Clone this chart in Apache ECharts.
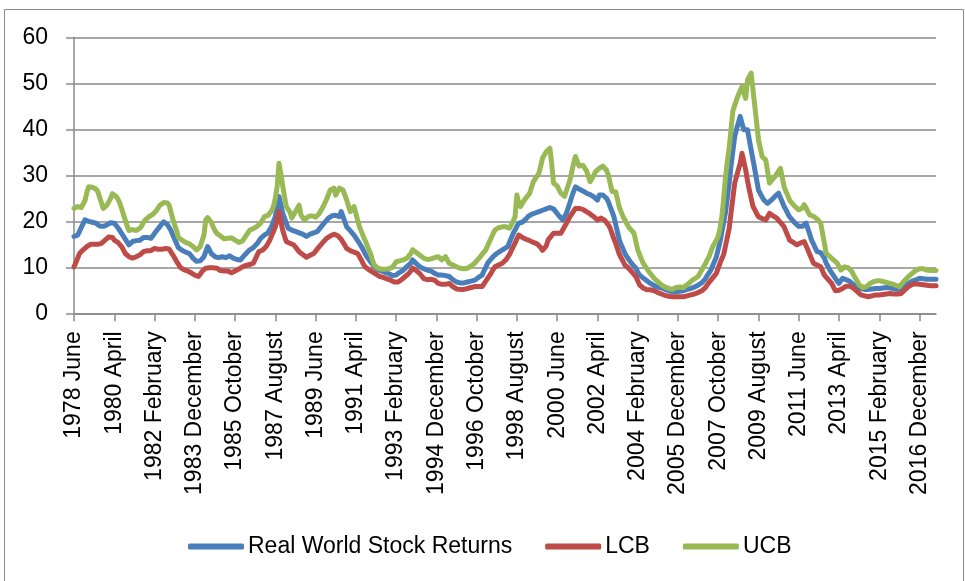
<!DOCTYPE html>
<html>
<head>
<meta charset="utf-8">
<script src="https://cdn.jsdelivr.net/npm/echarts@6/dist/echarts.min.js"></script>
<style>
html,body{margin:0;padding:0;background:#fff;}
#c{width:965px;height:581px;}
</style>
</head>
<body>
<div id="c"></div>
<script>
// Monthly observations, 1978 June .. 2017 September
const monthNames = ["January","February","March","April","May","June","July","August","September","October","November","December"];
const startYear = 1978;
const startMonth = 5; // June (0-based)
const seriesNames = ["Real World Stock Returns", "LCB", "UCB"];

const realWorld = [
16.7,16.8,17.0,17.8,18.7,19.5,20.3,20.2,20.0,19.9,
19.8,19.7,19.6,19.3,19.0,18.8,18.9,19.1,19.2,19.5,
19.7,19.9,19.6,19.2,18.6,18.0,17.4,16.8,16.1,15.5,
14.9,15.2,15.6,15.7,15.8,15.9,15.9,16.2,16.5,16.7,
16.5,16.4,16.3,16.8,17.4,17.9,18.4,18.8,19.4,19.9,
19.6,19.3,19.0,18.0,17.0,16.1,15.2,14.3,14.0,13.7,
13.4,13.3,13.1,13.0,12.5,12.0,11.6,11.3,10.9,11.4,
11.8,12.3,13.4,14.5,13.8,13.0,12.7,12.3,12.0,12.1,
12.2,12.3,12.2,12.1,12.0,12.5,12.3,12.0,11.8,11.7,
11.7,11.6,12.1,12.5,13.0,13.4,13.8,14.0,14.3,14.5,
15.1,15.7,16.3,16.7,17.0,17.3,17.5,17.8,18.9,20.0,
21.0,23.2,25.4,23.6,21.8,20.7,19.6,18.5,18.3,18.1,
18.0,17.8,17.7,17.5,17.4,17.2,16.9,16.7,16.9,17.2,
17.4,17.5,17.7,17.8,18.3,18.8,19.3,19.7,20.2,20.7,
20.9,21.2,21.4,21.3,21.1,21.0,22.1,21.0,19.9,18.8,
18.4,17.9,17.5,17.0,16.4,15.8,15.2,14.5,13.8,13.0,
12.3,11.8,11.2,10.7,10.1,9.8,9.5,9.3,9.2,9.1,
8.9,8.8,8.6,8.4,8.2,8.2,8.3,8.6,8.9,9.1,
9.4,9.8,10.2,10.5,10.9,11.6,11.2,10.8,10.5,10.1,
9.9,9.7,9.6,9.4,9.3,9.2,9.1,8.7,8.3,8.3,
8.3,8.3,8.3,8.2,8.1,8.0,7.6,7.3,6.9,6.8,
6.7,6.6,6.5,6.6,6.7,6.8,6.9,7.0,7.1,7.2,
7.5,7.8,8.0,8.3,9.2,10.0,10.9,11.4,11.8,12.3,
12.7,13.0,13.2,13.5,13.8,14.0,14.3,14.5,15.5,16.4,
17.4,18.1,18.9,19.6,19.7,19.8,19.9,20.5,21.0,21.2,
21.5,21.7,21.8,22.0,22.1,22.2,22.4,22.5,22.7,22.9,
23.0,23.2,22.7,22.2,21.7,21.2,20.8,20.3,21.0,21.7,
22.9,24.1,25.4,26.5,27.5,27.3,27.0,26.8,26.6,26.3,
26.1,26.0,25.8,25.7,25.3,25.0,24.6,25.7,25.7,25.7,
25.7,25.0,24.2,23.1,22.1,21.0,19.3,17.6,15.9,14.9,
14.0,13.0,12.4,11.8,11.2,10.7,10.3,9.8,9.0,8.3,
8.0,7.7,7.4,7.1,6.8,6.5,6.3,6.0,5.8,5.7,
5.6,5.5,5.4,5.2,5.0,4.9,4.7,4.7,4.7,4.7,
4.7,4.8,4.8,4.9,5.0,5.2,5.3,5.4,5.5,5.7,
5.8,6.1,6.3,6.6,6.9,7.5,8.2,8.8,9.4,10.4,
11.3,12.3,13.9,15.5,17.7,19.8,22.0,25.2,28.4,32.0,
35.2,38.4,40.0,41.4,42.8,41.3,39.9,39.9,39.9,37.7,
35.5,33.4,31.2,29.0,26.8,26.0,25.3,24.6,24.2,23.9,
24.3,24.6,25.0,25.4,25.7,26.1,25.1,24.2,23.2,22.5,
21.7,21.0,20.5,20.1,19.6,19.2,18.9,18.5,18.9,19.3,
19.6,18.4,17.2,15.9,15.1,14.2,13.4,13.3,13.2,13.2,
12.0,10.9,10.2,9.4,8.8,8.2,7.6,7.0,6.5,7.1,
7.6,7.5,7.3,7.2,6.9,6.5,6.2,6.0,5.8,5.6,
5.4,5.3,5.2,5.1,5.2,5.3,5.3,5.4,5.4,5.4,
5.4,5.5,5.5,5.6,5.6,5.6,5.5,5.5,5.4,5.3,
5.2,5.1,5.4,5.7,5.9,6.2,6.5,6.7,7.0,7.2,
7.3,7.5,7.6,7.6,7.5,7.5,7.4,7.4,7.4,7.4,
7.4,7.4
];

const lcb = [
10.1,11.0,12.0,13.0,13.4,13.8,14.1,14.5,14.7,15.0,
15.2,15.0,14.9,15.0,15.1,15.2,15.5,15.9,16.3,16.6,
17.0,16.5,15.9,15.7,15.4,15.2,14.5,13.8,13.0,12.6,
12.3,12.0,12.0,12.1,12.3,12.5,12.7,13.1,13.4,13.8,
13.6,13.4,13.6,13.9,14.1,14.0,13.9,13.8,13.9,14.0,
14.1,14.1,14.0,13.3,12.7,12.0,11.3,10.7,10.0,9.8,
9.5,9.3,9.2,9.1,8.8,8.6,8.3,8.1,8.0,8.5,
9.1,9.4,9.8,9.8,9.9,9.9,9.9,9.8,9.8,9.6,
9.3,9.1,9.2,9.4,9.2,9.0,8.8,9.0,9.2,9.4,
9.6,9.9,10.1,10.2,10.4,10.5,10.6,10.8,10.9,11.7,
12.6,13.4,13.5,13.7,13.8,14.5,15.2,15.9,16.9,17.8,
18.8,20.4,22.1,20.1,18.1,16.8,15.6,15.4,15.2,15.1,
14.9,14.4,13.9,13.4,13.1,12.8,12.5,12.2,12.4,12.6,
12.8,13.0,13.5,14.0,14.5,14.9,15.4,15.8,16.3,16.5,
16.8,17.0,17.2,17.0,16.9,16.7,16.1,15.4,14.8,14.1,
13.9,13.6,13.4,13.3,13.1,13.0,12.3,11.6,10.8,10.1,
9.8,9.5,9.3,9.0,8.7,8.5,8.2,8.0,7.9,7.8,
7.6,7.5,7.3,7.2,7.0,6.8,6.5,6.8,7.0,7.3,
7.6,8.0,8.3,8.7,9.2,9.8,9.6,9.3,9.1,8.6,
8.1,7.6,7.5,7.3,7.2,7.4,7.6,7.2,6.9,6.5,
6.4,6.3,6.2,6.3,6.4,6.5,6.1,5.8,5.4,5.3,
5.2,5.2,5.1,5.2,5.3,5.4,5.5,5.6,5.7,5.8,
5.8,5.8,5.8,5.8,6.4,7.0,7.6,8.2,8.8,9.5,
10.1,10.3,10.5,10.7,10.9,11.3,11.6,12.0,12.8,13.7,
14.5,15.3,16.2,17.0,16.8,16.5,16.3,16.1,15.9,15.8,
15.6,15.4,15.2,15.1,14.9,14.3,13.7,13.4,14.6,15.9,
16.4,16.9,17.4,17.4,17.4,17.4,17.4,18.1,18.8,19.5,
20.3,21.0,21.6,22.2,22.8,22.8,22.8,22.8,22.6,22.3,
22.1,21.9,21.6,21.4,21.0,20.7,20.3,20.5,20.7,20.4,
20.2,19.9,19.2,18.5,17.3,16.2,15.2,14.0,12.8,12.0,
11.3,10.5,10.1,9.8,9.4,8.9,8.5,8.0,7.1,6.2,
5.8,5.5,5.1,5.1,5.1,5.1,5.0,4.9,4.7,4.5,
4.4,4.2,4.0,3.9,3.8,3.7,3.6,3.6,3.6,3.6,
3.6,3.6,3.6,3.6,3.7,3.8,3.9,4.0,4.1,4.2,
4.3,4.5,4.7,4.9,5.1,5.6,6.2,6.7,7.2,7.7,
8.2,8.7,9.8,10.9,11.9,12.8,14.7,16.6,18.5,21.8,
25.0,28.3,29.7,31.2,32.6,34.8,33.0,31.2,28.8,26.8,
25.0,23.2,22.5,21.7,21.0,20.8,20.6,20.4,20.3,21.0,
21.7,21.5,21.2,21.0,20.7,20.2,19.8,19.3,18.8,17.8,
16.9,15.9,15.6,15.4,15.1,14.9,15.1,15.3,15.5,15.6,
14.7,13.8,12.8,11.9,10.9,10.7,10.5,10.3,10.1,9.2,
8.3,7.9,7.4,7.0,6.5,5.7,4.9,5.0,5.0,5.1,
5.4,5.7,5.9,6.2,5.9,5.6,5.4,5.1,4.7,4.4,
4.0,3.9,3.8,3.7,3.6,3.7,3.8,3.9,4.0,4.0,
4.0,4.0,4.1,4.2,4.2,4.3,4.3,4.2,4.2,4.2,
4.2,4.3,4.3,4.7,5.1,5.4,5.8,6.0,6.3,6.5,
6.4,6.3,6.3,6.2,6.2,6.1,6.1,6.1,6.0,6.0,
6.0,6.0
];

const ucb = [
22.8,23.0,23.2,23.3,23.0,22.8,24.5,26.2,27.5,27.6,
27.4,27.5,27.0,26.5,25.2,24.0,22.8,23.0,23.5,23.9,
25.0,26.0,25.8,25.4,24.8,24.0,22.8,21.5,20.3,19.0,
18.0,17.8,18.2,18.1,18.0,18.3,18.5,19.0,19.8,20.3,
20.6,21.0,21.2,21.5,21.7,22.3,22.9,23.5,23.9,24.1,
24.3,24.0,23.5,22.0,20.5,19.2,18.1,16.5,16.2,15.9,
15.6,15.4,15.2,15.1,14.9,14.5,14.1,13.8,14.0,14.5,
15.8,17.0,20.3,20.8,21.0,19.8,18.8,18.0,17.4,17.0,
16.8,16.7,16.2,15.9,16.3,16.7,16.4,16.1,15.9,15.6,
15.4,15.2,15.7,16.3,16.9,17.5,18.1,18.3,18.4,18.5,
18.9,19.3,19.6,20.3,21.0,21.1,21.3,21.4,22.3,23.2,
25.0,27.5,32.6,30.4,27.8,25.4,23.2,22.6,22.0,20.7,
21.4,22.1,22.8,23.5,21.4,20.8,20.3,20.6,21.0,21.4,
21.2,21.0,20.9,21.3,21.7,22.4,23.1,23.9,24.8,25.8,
26.8,27.0,27.2,25.7,26.5,27.2,27.0,26.8,25.7,24.6,
23.3,22.1,22.6,23.2,21.7,20.2,18.8,17.8,16.8,15.9,
14.9,13.9,13.0,11.7,10.5,10.1,9.8,9.6,9.6,9.5,
9.6,9.6,9.7,9.9,10.0,10.6,11.2,11.3,11.4,11.5,
11.6,11.8,12.0,12.3,13.0,13.8,13.5,13.2,13.0,12.6,
12.3,12.0,11.8,11.7,11.6,11.8,12.0,12.1,12.2,12.3,
11.9,11.6,12.0,12.3,11.6,10.9,10.7,10.5,10.3,10.1,
10.0,9.8,9.7,9.7,9.8,9.8,10.0,10.3,10.6,10.9,
11.4,11.8,12.3,12.8,13.3,13.8,14.7,15.6,16.4,17.3,
18.1,18.4,18.6,18.8,18.8,18.7,18.8,18.6,18.5,19.3,
20.1,21.0,25.7,24.0,23.2,23.9,24.6,25.1,25.6,26.1,
27.4,28.6,29.2,29.8,30.4,32.0,33.7,34.4,35.1,35.5,
35.9,32.6,28.3,28.0,27.7,27.5,26.1,25.8,25.4,26.6,
27.8,29.0,30.8,32.6,34.1,33.0,32.0,32.1,32.2,32.2,
31.0,29.8,28.6,29.3,30.0,30.8,31.2,31.5,31.7,32.0,
32.2,31.1,30.0,28.2,26.5,26.5,26.4,26.4,23.0,22.0,
21.0,20.3,19.5,18.8,18.3,17.9,17.4,15.6,13.8,12.8,
11.8,10.9,10.3,9.7,9.1,8.6,8.1,7.6,7.2,6.9,
6.5,6.2,5.8,5.7,5.5,5.4,5.3,5.2,5.4,5.6,
5.8,5.7,5.6,5.6,5.9,6.2,6.5,6.9,7.2,7.5,
7.8,8.0,8.7,9.4,10.1,10.8,11.6,12.3,13.4,14.5,
15.2,15.9,16.7,18.5,21.0,25.0,29.7,33.0,36.0,40.0,
44.0,45.2,46.4,47.5,48.4,49.3,48.0,46.7,50.7,51.5,
52.2,48.6,45.0,41.4,37.7,35.9,34.1,33.7,33.3,30.8,
28.3,28.8,29.2,29.7,30.3,30.9,31.5,29.5,27.5,26.5,
25.6,24.6,24.1,23.7,23.2,22.8,22.5,22.1,22.9,23.6,
22.9,22.1,21.4,21.3,21.1,21.0,20.5,20.1,19.6,17.4,
15.2,13.0,12.6,12.3,11.9,11.6,11.2,10.9,10.2,9.4,
9.8,10.1,10.0,9.9,9.8,9.1,8.3,7.6,6.9,6.2,
5.9,5.6,5.4,5.8,6.1,6.5,6.7,6.9,7.2,7.1,
7.0,7.0,6.9,6.8,6.7,6.6,6.5,6.4,6.2,6.1,
5.9,5.8,6.3,6.7,7.2,7.6,8.0,8.3,8.7,9.1,
9.3,9.5,9.7,9.8,9.7,9.5,9.4,9.4,9.3,9.3,
9.3,9.3
];

const yTicks = [0, 10, 20, 30, 40, 50, 60];

// category labels "YYYY Month"
const categories = realWorld.map(function (_, i) {
  const m = startMonth + i;
  return (startYear + Math.floor(m / 12)) + " " + monthNames[m % 12];
});

const chart = echarts.init(document.getElementById('c'), null, {renderer: 'canvas'});
const FONT = '"Liberation Sans", Arial, sans-serif';
const colors = ['#4A7EBB', '#BE4B48', '#98B954'];

chart.setOption({
  animation: false,
  backgroundColor: '#ffffff',
  color: colors,
  textStyle: {fontFamily: FONT},
  graphic: [{
    type: 'rect',
    shape: {x: 4.5, y: 9.5, width: 959, height: 580},
    style: {fill: 'none', stroke: '#8a8a8a', lineWidth: 1},
    silent: true
  }],
  grid: {left: 74, right: 29, top: 37.3, bottom: 267.7, containLabel: false},
  legend: {
    left: 183,
    top: 530,
    itemWidth: 56,
    itemHeight: 6,
    itemGap: 33,
    icon: 'roundRect',
    textStyle: {fontFamily: FONT, fontSize: 23, color: '#000', padding: [0, 0, 0, -1]},
    data: seriesNames
  },
  xAxis: {
    type: 'category',
    data: categories,
    boundaryGap: false,
    axisLine: {lineStyle: {color: '#8a8a8a', width: 1.5}},
    axisTick: {show: true, interval: 21, length: 8, lineStyle: {color: '#8a8a8a', width: 1.5}},
    axisLabel: {interval: 21, rotate: 90, margin: 18, fontSize: 23, color: '#000', fontFamily: FONT},
    splitLine: {show: false}
  },
  yAxis: {
    type: 'value',
    min: yTicks[0],
    max: yTicks[yTicks.length - 1],
    interval: 10,
    axisLine: {show: true, lineStyle: {color: '#8a8a8a', width: 1.5}},
    axisTick: {show: true, length: 8, lineStyle: {color: '#8a8a8a', width: 1.5}},
    axisLabel: {margin: 26, fontSize: 23, color: '#000', fontFamily: FONT},
    splitLine: {show: true, lineStyle: {color: '#8a8a8a', width: 1.5}}
  },
  series: [
    {name: seriesNames[0], type: 'line', data: realWorld, showSymbol: false, symbol: 'none',
     lineStyle: {width: 5, color: colors[0], cap: 'round', join: 'round'}},
    {name: seriesNames[1], type: 'line', data: lcb, showSymbol: false, symbol: 'none',
     lineStyle: {width: 5, color: colors[1], cap: 'round', join: 'round'}},
    {name: seriesNames[2], type: 'line', data: ucb, showSymbol: false, symbol: 'none',
     lineStyle: {width: 5, color: colors[2], cap: 'round', join: 'round'}}
  ]
});
</script>
</body>
</html>
